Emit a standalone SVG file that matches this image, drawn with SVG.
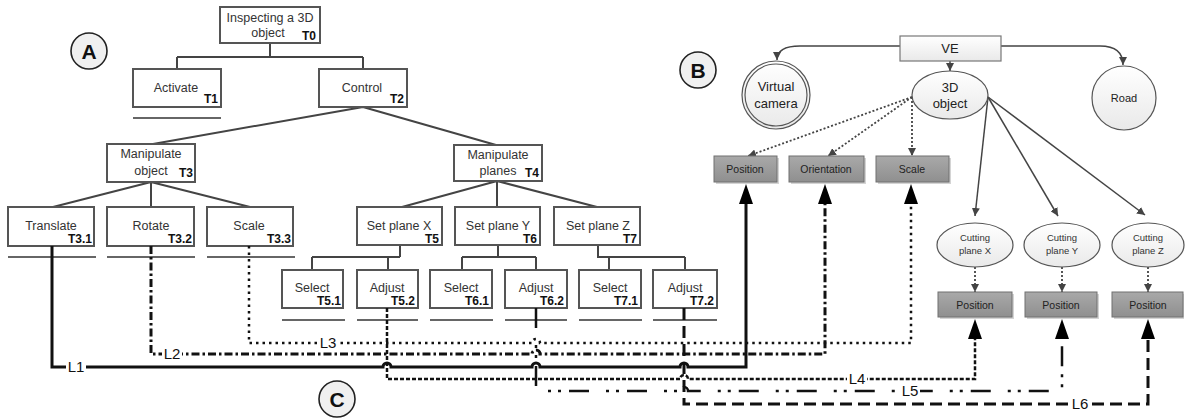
<svg xmlns="http://www.w3.org/2000/svg" width="1185" height="419" viewBox="0 0 1185 419">
<defs>
<style>
.box{fill:#fff;stroke:#555;stroke-width:2}
.t{font-family:"Liberation Sans",Arial,sans-serif;font-size:12.5px;fill:#333;text-anchor:middle}
.id{font-family:"Liberation Sans",Arial,sans-serif;font-size:12px;font-weight:bold;fill:#111;text-anchor:end}
.ul{stroke:#666;stroke-width:2}
.tree{fill:none;stroke:#444;stroke-width:2}
.circ{fill:#f0f0f0;stroke:#222;stroke-width:1.6}
.big{font-family:"Liberation Sans",Arial,sans-serif;font-size:21px;font-weight:bold;text-anchor:middle;fill:#111}
.gbox{fill:url(#gg);stroke:#707070;stroke-width:1}
.shadow{fill:#d4d4d4}
.s{font-family:"Liberation Sans",Arial,sans-serif;font-size:10.5px;fill:#222;text-anchor:middle}
.ell{fill:url(#wg);stroke:#555;stroke-width:1.2}
.r{font-family:"Liberation Sans",Arial,sans-serif;font-size:13px;fill:#222;text-anchor:middle}
.cp{font-family:"Liberation Sans",Arial,sans-serif;font-size:9.5px;fill:#333;text-anchor:middle}
.link{fill:none;stroke:#444;stroke-width:1.5}
.dot{fill:none;stroke:#444;stroke-width:1.8;stroke-dasharray:2 2}
.L{fill:none;stroke:#111}
.lab{font-family:"Liberation Sans",Arial,sans-serif;font-size:15px;fill:#111;text-anchor:middle}
.bg{fill:#fff}
</style>
<linearGradient id="gg" x1="0" y1="0" x2="0" y2="1"><stop offset="0" stop-color="#a9a9a9"/><stop offset="1" stop-color="#8f8f8f"/></linearGradient>
<linearGradient id="wg" x1="0" y1="0" x2="0" y2="1"><stop offset="0" stop-color="#ffffff"/><stop offset="1" stop-color="#e9e9e9"/></linearGradient>
<marker id="sm" markerUnits="userSpaceOnUse" markerWidth="8" markerHeight="8" refX="8" refY="4" orient="auto"><path d="M0,0 L8,4 L0,8 z" fill="#444"/></marker>
<marker id="bgm" markerUnits="userSpaceOnUse" markerWidth="20" markerHeight="14" refX="12" refY="7" orient="auto"><path d="M0,0 L20,7 L0,14 z" fill="#000"/></marker>
</defs>
<rect width="1185" height="419" fill="#fff"/>

<!-- Labels A B C -->
<g id="labelA"><circle class="circ" cx="89" cy="51" r="18"/><text class="big" x="89" y="59">A</text></g>
<g id="labelB"><circle class="circ" cx="698" cy="70" r="18"/><text class="big" x="698" y="78">B</text></g>
<g id="labelC"><circle class="circ" cx="337" cy="399" r="18"/><text class="big" x="337" y="407">C</text></g>

<!-- Tree connectors -->
<g id="tree-connectors" class="tree">
<path d="M270,43 V57 M177,57 H363 M177,57 V69 M363,57 V69"/>
<path d="M363,107 L153,144 M363,107 L496,145"/>
<path d="M151,182 L53,207 M151,182 V207 M151,182 L250,207"/>
<path d="M497,181 L402,207 M497,181 V207 M497,181 L597,207"/>
<path d="M400,245 V257 M312,257 H400 M312,257 V270 M388,257 V270"/>
<path d="M498,245 V257 M462,257 H536 M462,257 V270 M536,257 V270"/>
<path d="M598,245 V257 H685 M609,257 V270 M685,257 V270"/>
</g>

<!-- Tree nodes -->
<g id="T0"><rect class="box" x="220" y="7" width="100" height="36"/><text class="t" x="270" y="22">Inspecting a 3D</text><text class="t" x="268" y="37">object</text><text class="id" x="316" y="40">T0</text></g>
<g id="T1"><rect class="box" x="133" y="69" width="88" height="38"/><text class="t" x="176" y="92">Activate</text><text class="id" x="218" y="103">T1</text><line class="ul" x1="133" y1="118" x2="221" y2="118"/></g>
<g id="T2"><rect class="box" x="319" y="69" width="88" height="38"/><text class="t" x="362" y="92">Control</text><text class="id" x="404" y="103">T2</text></g>
<g id="T3"><rect class="box" x="107" y="144" width="88" height="38"/><text class="t" x="151" y="158">Manipulate</text><text class="t" x="151" y="175">object</text><text class="id" x="193" y="177">T3</text></g>
<g id="T4"><rect class="box" x="454" y="145" width="88" height="36"/><text class="t" x="498" y="159">Manipulate</text><text class="t" x="498" y="175">planes</text><text class="id" x="539" y="177">T4</text></g>
<g id="T3-1"><rect class="box" x="8" y="207" width="86" height="39"/><text class="t" x="51" y="230">Translate</text><text class="id" x="92" y="243">T3.1</text><line class="ul" x1="8" y1="257" x2="96" y2="257"/></g>
<g id="T3-2"><rect class="box" x="107" y="207" width="87" height="39"/><text class="t" x="151" y="230">Rotate</text><text class="id" x="192" y="243">T3.2</text><line class="ul" x1="107" y1="257" x2="195" y2="257"/></g>
<g id="T3-3"><rect class="box" x="207" y="207" width="86" height="39"/><text class="t" x="249" y="230">Scale</text><text class="id" x="291" y="243">T3.3</text><line class="ul" x1="207" y1="257" x2="295" y2="257"/></g>
<g id="T5"><rect class="box" x="357" y="207" width="85" height="38"/><text class="t" x="399" y="230">Set plane X</text><text class="id" x="439" y="243">T5</text></g>
<g id="T6"><rect class="box" x="455" y="207" width="85" height="38"/><text class="t" x="498" y="230">Set plane Y</text><text class="id" x="537" y="243">T6</text></g>
<g id="T7"><rect class="box" x="554" y="207" width="86" height="38"/><text class="t" x="598" y="230">Set plane Z</text><text class="id" x="637" y="243">T7</text></g>
<g id="T5-1"><rect class="box" x="282" y="270" width="61" height="38"/><text class="t" x="312" y="292">Select</text><text class="id" x="341" y="305">T5.1</text><line class="ul" x1="282" y1="320" x2="345" y2="320"/></g>
<g id="T5-2"><rect class="box" x="357" y="270" width="61" height="38"/><text class="t" x="387" y="292">Adjust</text><text class="id" x="415" y="305">T5.2</text><line class="ul" x1="357" y1="320" x2="418" y2="320"/></g>
<g id="T6-1"><rect class="box" x="430" y="270" width="62" height="38"/><text class="t" x="461" y="292">Select</text><text class="id" x="489" y="305">T6.1</text><line class="ul" x1="430" y1="320" x2="493" y2="320"/></g>
<g id="T6-2"><rect class="box" x="505" y="270" width="62" height="38"/><text class="t" x="536" y="292">Adjust</text><text class="id" x="564" y="305">T6.2</text><line class="ul" x1="505" y1="320" x2="567" y2="320"/></g>
<g id="T7-1"><rect class="box" x="579" y="270" width="62" height="38"/><text class="t" x="610" y="292">Select</text><text class="id" x="638" y="305">T7.1</text><line class="ul" x1="579" y1="320" x2="642" y2="320"/></g>
<g id="T7-2"><rect class="box" x="653" y="270" width="64" height="38"/><text class="t" x="685" y="292">Adjust</text><text class="id" x="714" y="305">T7.2</text><line class="ul" x1="653" y1="320" x2="717" y2="320"/></g>

<!-- B connectors -->
<g id="b-connectors">
<path class="link" d="M900,46 H800 Q777,46 777,60" marker-end="url(#sm)"/>
<path class="link" d="M1001,46 H1100 Q1123,46 1123,65" marker-end="url(#sm)"/>
<path class="link" d="M950,61 V71" marker-end="url(#sm)"/>
<path class="dot" d="M912,97 L748,156" marker-end="url(#sm)"/>
<path class="dot" d="M912,97 L828,156" marker-end="url(#sm)"/>
<path class="dot" d="M912,97 V156" marker-end="url(#sm)"/>
<path class="link" d="M988,97 L975,216" marker-end="url(#sm)"/>
<path class="link" d="M988,97 L1058,216" marker-end="url(#sm)"/>
<path class="link" d="M988,97 L1145,215" marker-end="url(#sm)"/>
<path class="dot" d="M975,267 V292" marker-end="url(#sm)"/>
<path class="dot" d="M1062,267 V292" marker-end="url(#sm)"/>
<path class="dot" d="M1148,267 V292" marker-end="url(#sm)"/>
</g>

<!-- B nodes -->
<g id="VE"><rect x="900" y="36" width="101" height="25" fill="url(#wg)" stroke="#777" stroke-width="1.2"/><text class="r" x="950" y="53">VE</text></g>
<g id="camera"><circle cx="776" cy="95" r="34" fill="url(#wg)" stroke="#555" stroke-width="1.2"/><circle cx="776" cy="95" r="31" fill="none" stroke="#555" stroke-width="1.2"/><text class="r" x="776" y="91">Virtual</text><text class="r" x="776" y="108">camera</text></g>
<g id="object3d"><ellipse class="ell" cx="950" cy="95" rx="38" ry="24"/><text class="r" x="950" y="92">3D</text><text class="r" x="950" y="108">object</text></g>
<g id="road"><circle class="ell" cx="1124" cy="98" r="32"/><text class="s" x="1124" y="102" style="font-size:11px">Road</text></g>
<g id="pos"><rect class="shadow" x="716" y="158" width="63" height="26"/><rect class="gbox" x="714" y="156" width="63" height="26"/><text class="s" x="745" y="173">Position</text></g>
<g id="orient"><rect class="shadow" x="791" y="158" width="75" height="26"/><rect class="gbox" x="789" y="156" width="75" height="26"/><text class="s" x="826" y="173">Orientation</text></g>
<g id="scale"><rect class="shadow" x="878" y="158" width="73" height="26"/><rect class="gbox" x="876" y="156" width="73" height="26"/><text class="s" x="912" y="173">Scale</text></g>
<g id="cpx"><ellipse class="ell" cx="975" cy="245" rx="38" ry="22"/><text class="cp" x="975" y="241">Cutting</text><text class="cp" x="975" y="254">plane X</text></g>
<g id="cpy"><ellipse class="ell" cx="1062" cy="245" rx="38" ry="22"/><text class="cp" x="1062" y="241">Cutting</text><text class="cp" x="1062" y="254">plane Y</text></g>
<g id="cpz"><ellipse class="ell" cx="1148" cy="245" rx="36" ry="22"/><text class="cp" x="1148" y="241">Cutting</text><text class="cp" x="1148" y="254">plane Z</text></g>
<g id="posx"><rect class="shadow" x="940" y="294" width="74" height="25"/><rect class="gbox" x="938" y="292" width="74" height="25"/><text class="s" x="975" y="309">Position</text></g>
<g id="posy"><rect class="shadow" x="1027" y="294" width="72" height="25"/><rect class="gbox" x="1025" y="292" width="72" height="25"/><text class="s" x="1061" y="309">Position</text></g>
<g id="posz"><rect class="shadow" x="1114" y="294" width="70" height="25"/><rect class="gbox" x="1112" y="292" width="71" height="25"/><text class="s" x="1148" y="309">Position</text></g>

<!-- C connectors -->
<g id="c-connectors">
<path class="L" stroke-width="2.5" stroke-dasharray="2.5 4" d="M249,246 V343 H532 a4,4 0 0 1 8,0 H911 V192" marker-end="url(#bgm)"/>
<path class="L" stroke-width="3" stroke-dasharray="8 3 2.5 3" d="M151,246 V354 H532 a4,4 0 0 1 8,0 H825 V192" marker-end="url(#bgm)"/>
<path class="L" stroke-width="2.5" stroke-dasharray="4 2" d="M387,308 V379 H680 a4,4 0 0 1 8,0 H975 V327" marker-end="url(#bgm)"/>
<path class="L" stroke-width="2.5" stroke-dasharray="20 17 3 7 3 8" d="M536,308 V391 H680 a4,4 0 0 1 8,0 H1062 V327" marker-end="url(#bgm)"/>
<path class="L" stroke-width="3" stroke-dasharray="12 6" d="M684,308 V404 H1148 V327" marker-end="url(#bgm)"/>
<path class="L" stroke-width="3" d="M52,246 V367 H383 a4,4 0 0 1 8,0 H532 a4,4 0 0 1 8,0 H680 a4,4 0 0 1 8,0 H746 V192" marker-end="url(#bgm)"/>
<rect class="bg" x="66" y="359" width="20" height="16"/><text class="lab" x="76" y="372">L1</text>
<rect class="bg" x="162" y="346" width="20" height="16"/><text class="lab" x="172" y="359">L2</text>
<rect class="bg" x="318" y="335" width="20" height="16"/><text class="lab" x="328" y="348">L3</text>
<rect class="bg" x="847" y="371" width="20" height="16"/><text class="lab" x="857" y="384">L4</text>
<rect class="bg" x="900" y="383" width="20" height="16"/><text class="lab" x="910" y="396">L5</text>
<rect class="bg" x="1070" y="396" width="20" height="16"/><text class="lab" x="1080" y="409">L6</text>
</g>
</svg>
